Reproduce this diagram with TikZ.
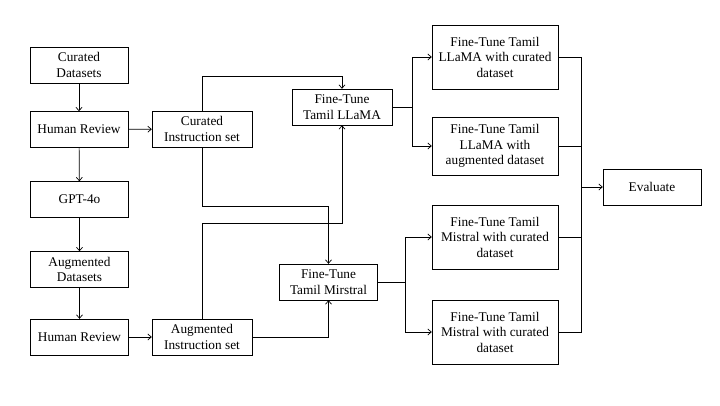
\documentclass[tikz,border=0pt]{standalone}
\usepackage{fontspec}
\setmainfont{Liberation Serif}
\usepackage{tikz}
\usetikzlibrary{arrows.meta}
\tikzstyle{stepbox} = [draw, fill=white, align=center, inner sep=2pt, minimum width=98pt, minimum height=36pt, font=\fontsize{13.3}{15.5}\selectfont]
\tikzstyle{wide} = [stepbox, minimum width=126pt, minimum height=64pt]
\tikzstyle{link} = [line width=0.7pt, >={Straight Barb[length=3.5pt,width=6pt]}]

\begin{document}
\begin{tikzpicture}[x=1pt, y=-1pt]
      \useasboundingbox (0, 0) rectangle (720, 405);
      % left column
      \node[stepbox] (curated) at (79, 65) {Curated\\Datasets};
      \node[stepbox] (review1) at (79, 129.5) {Human Review};
      \node[stepbox] (gpt) at (79.5, 199.5) {GPT-4o};
      \node[stepbox] (augmented) at (79.5, 269.5) {Augmented\\Datasets};
      \node[stepbox] (review2) at (79.5, 337) {Human Review};
      \node[stepbox, minimum width=100pt] (curinst) at (202, 129) {Curated\\Instruction set};
      \node[stepbox, minimum width=100pt] (auginst) at (202, 337) {Augmented\\Instruction set};
      % models
      \node[stepbox, minimum width=100pt] (llama) at (342, 107) {Fine-Tune\\Tamil LLaMA};
      \node[stepbox] (mistral) at (328.5, 282) {Fine-Tune\\Tamil Mirstral};
      \node[wide] (llamacur) at (495, 57) {Fine-Tune Tamil\\LLaMA with curated\\dataset};
      \node[wide, minimum height=58pt] (llamaaug) at (495, 146) {Fine-Tune Tamil\\LLaMA with\\augmented dataset};
      \node[wide] (mistcur) at (495, 237) {Fine-Tune Tamil\\Mistral with curated\\dataset};
      \node[wide] (mistaug) at (495, 332) {Fine-Tune Tamil\\Mistral with curated\\dataset};
      \node[stepbox] (evaluate) at (652, 187) {Evaluate};
      \coordinate (splitl) at (412, 107);
      \coordinate (splitm) at (405, 282);
      \coordinate (mergetop) at (581, 57);
      \coordinate (mergebot) at (581, 332);
      \coordinate (merge) at (581, 187);

      \draw[->, link] (curated) -- (review1);
      \draw[->, link] (review1) -- (curinst);
      \draw[->, link] (review1) -- (gpt);
      \draw[->, link] (gpt) -- (augmented);
      \draw[->, link] (augmented) -- (review2);
      \draw[->, link] (review2) -- (auginst);
      \draw[->, link] (curinst.north) -- (202, 76) -| (llama.north);
      \draw[->, link] (curinst.south) -- (202, 206) -| (mistral.north);
      \draw[->, link] (auginst.north) -- (202, 223) -| (llama.south);
      \draw[->, link] (auginst.east) -| (mistral.south);
      \draw[link] (llama.east) -- (splitl);
      \draw[->, link] (splitl) |- (llamacur.west);
      \draw[->, link] (splitl) |- (llamaaug.west);
      \draw[link] (mistral.east) -- (splitm);
      \draw[->, link] (splitm) |- (mistcur.west);
      \draw[->, link] (splitm) |- (mistaug.west);
      \draw[link] (llamacur.east) -- (mergetop) -- (mergebot) -- (mistaug.east);
      \draw[link] (llamaaug.east) -- (llamaaug.east -| merge);
      \draw[link] (mistcur.east) -- (mistcur.east -| merge);
      \draw[->, link] (merge) -- (evaluate);
    \end{tikzpicture}
\end{document}
